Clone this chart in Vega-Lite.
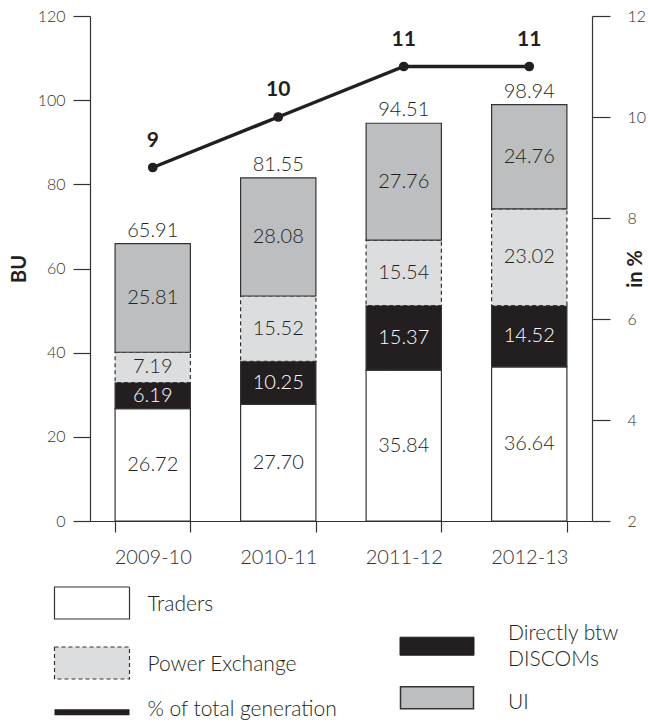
{
  "$schema": "https://vega.github.io/schema/vega-lite/v6.json",
  "padding": {"left": 9, "top": 8, "right": 0, "bottom": 2},
  "config": {
    "view": {"stroke": null},
    "font": "Lato",
    "axis": {"grid": false, "domainColor": "#333333", "tickColor": "#333333", "labelColor": "#333333", "labelFont": "Lato", "labelFontWeight": 300, "titleFont": "Lato", "domainWidth": 1.2, "tickWidth": 1.2}
  },
  "datasets": {
    "bars": [
      {"year": "2009-10", "type": "Traders", "ord": 1, "value": 26.72},
      {"year": "2009-10", "type": "Directly btw DISCOMs", "ord": 2, "value": 6.19},
      {"year": "2009-10", "type": "Power Exchange", "ord": 3, "value": 7.19},
      {"year": "2009-10", "type": "UI", "ord": 4, "value": 25.81},
      {"year": "2010-11", "type": "Traders", "ord": 1, "value": 27.70},
      {"year": "2010-11", "type": "Directly btw DISCOMs", "ord": 2, "value": 10.25},
      {"year": "2010-11", "type": "Power Exchange", "ord": 3, "value": 15.52},
      {"year": "2010-11", "type": "UI", "ord": 4, "value": 28.08},
      {"year": "2011-12", "type": "Traders", "ord": 1, "value": 35.84},
      {"year": "2011-12", "type": "Directly btw DISCOMs", "ord": 2, "value": 15.37},
      {"year": "2011-12", "type": "Power Exchange", "ord": 3, "value": 15.54},
      {"year": "2011-12", "type": "UI", "ord": 4, "value": 27.76},
      {"year": "2012-13", "type": "Traders", "ord": 1, "value": 36.64},
      {"year": "2012-13", "type": "Directly btw DISCOMs", "ord": 2, "value": 14.52},
      {"year": "2012-13", "type": "Power Exchange", "ord": 3, "value": 23.02},
      {"year": "2012-13", "type": "UI", "ord": 4, "value": 24.76}
    ],
    "pct": [
      {"year": "2009-10", "pct": 9},
      {"year": "2010-11", "pct": 10},
      {"year": "2011-12", "pct": 11},
      {"year": "2012-13", "pct": 11}
    ],
    "legend": [
      {"item": "Traders", "label": "Traders", "col": 0, "row": 0, "trow": 0.04},
      {"item": "Power Exchange", "label": "Power Exchange", "col": 0, "row": 1, "trow": 1.03},
      {"item": "% of total generation", "label": "% of total generation", "col": 0, "row": 1.82, "trow": 1.78},
      {"item": "Directly btw DISCOMs", "label": "Directly btw\nDISCOMs", "col": 1, "row": 0.72, "trow": 0.52},
      {"item": "UI", "label": "UI", "col": 1, "row": 1.58, "trow": 1.67}
    ]
  },
  "bounds": "flush",
  "spacing": 82,
  "vconcat": [
    {
      "width": 502,
      "height": 505,
      "encoding": {
        "x": {"field": "year", "type": "nominal", "scale": {"paddingInner": 0.4, "paddingOuter": 0.2},
          "axis": {"tickBand": "extent", "tickSize": 11, "labelPadding": 15, "labelFontSize": 20, "labelAngle": 0, "title": null}}
      },
      "layer": [
        {
          "data": {"name": "bars"},
          "layer": [
            {
              "mark": {"type": "bar", "stroke": "#333333", "strokeWidth": 1.2},
              "encoding": {
                "y": {"field": "value", "type": "quantitative", "stack": "zero", "scale": {"domain": [0, 120]},
                  "axis": {"values": [0, 20, 40, 60, 80, 100, 120], "tickSize": 17, "labelPadding": 8, "labelFontSize": 16, "title": "BU", "titleFontSize": 20, "titleFontWeight": "bold", "titleColor": "#231f20", "titlePadding": 8}},
                "fill": {"field": "type", "type": "nominal", "legend": null,
                  "scale": {"domain": ["Traders", "Directly btw DISCOMs", "Power Exchange", "UI"], "range": ["#ffffff", "#231f20", "#dcdddf", "#bcbec0"]}},
                "order": {"field": "ord", "type": "quantitative"},
                "strokeDash": {"condition": {"test": "datum.type === 'Power Exchange'", "value": [4, 3]}, "value": [1, 0]}
              }
            },
            {
              "transform": [
                {"stack": "value", "groupby": ["year"], "sort": [{"field": "ord", "order": "ascending"}], "as": ["v0", "v1"]},
                {"calculate": "(datum.v0 + datum.v1) / 2", "as": "mid"}
              ],
              "mark": {"type": "text", "fontSize": 20, "fontWeight": 300, "baseline": "middle", "align": "center"},
              "encoding": {
                "y": {"field": "mid", "type": "quantitative", "scale": {"domain": [0, 120]}},
                "text": {"field": "value", "type": "quantitative", "format": ".2f"},
                "color": {"condition": {"test": "datum.type === 'Directly btw DISCOMs'", "value": "#ffffff"}, "value": "#231f20"}
              }
            },
            {
              "mark": {"type": "text", "fontSize": 20, "fontWeight": 300, "baseline": "bottom", "align": "center", "dy": -3, "color": "#231f20"},
              "encoding": {
                "y": {"aggregate": "sum", "field": "value", "type": "quantitative", "scale": {"domain": [0, 120]}},
                "text": {"aggregate": "sum", "field": "value", "type": "quantitative", "format": ".2f"}
              }
            }
          ]
        },
        {
          "data": {"name": "pct"},
          "encoding": {
            "y": {"field": "pct", "type": "quantitative", "scale": {"domain": [2, 12]},
              "axis": {"orient": "right", "values": [2, 4, 6, 8, 10, 12], "tickSize": 18, "labelPadding": 17, "labelFontSize": 16, "title": "in %", "titleFontSize": 20, "titleFontWeight": "bold", "titleColor": "#231f20", "titleAngle": 270, "titlePadding": 0}}
          },
          "layer": [
            {"mark": {"type": "line", "color": "#231f20", "strokeWidth": 3.5}},
            {"mark": {"type": "point", "filled": true, "size": 95, "color": "#231f20", "opacity": 1}},
            {"mark": {"type": "text", "fontSize": 21, "fontWeight": "bold", "baseline": "middle", "dy": -27, "color": "#231f20"},
              "encoding": {"text": {"field": "pct", "type": "quantitative"}}}
          ]
        }
      ],
      "resolve": {"scale": {"y": "independent"}}
    },
    {
      "width": 502,
      "height": 110,
      "data": {"name": "legend"},
      "encoding": {
        "x": {"field": "col", "type": "quantitative", "scale": {"domain": [0, 1], "range": [2, 347]}, "axis": null}
      },
      "layer": [
        {
          "transform": [{"filter": "datum.item === 'Traders' || datum.item === 'Power Exchange'"}],
          "mark": {"type": "point", "shape": "M-1,-0.4267H1V0.4267H-1Z", "size": 5625, "stroke": "#333333", "strokeWidth": 1.2, "opacity": 1, "filled": true},
          "encoding": {
            "y": {"field": "row", "type": "quantitative", "scale": {"domain": [0, 1], "range": [0, 60]}, "axis": null},
            "fill": {"condition": {"test": "datum.item === 'Power Exchange'", "value": "#dcdddf"}, "value": "#ffffff"},
            "strokeDash": {"condition": {"test": "datum.item === 'Power Exchange'", "value": [4, 3]}, "value": [1, 0]}
          }
        },
        {
          "transform": [{"filter": "datum.item === 'Directly btw DISCOMs'"}],
          "mark": {"type": "point", "shape": "M-1,-0.243H1V0.243H-1Z", "size": 5476, "fill": "#231f20", "stroke": "#231f20", "strokeWidth": 1, "opacity": 1, "filled": true},
          "encoding": {"y": {"field": "row", "type": "quantitative", "scale": {"domain": [0, 1], "range": [0, 60]}, "axis": null}}
        },
        {
          "transform": [{"filter": "datum.item === 'UI'"}],
          "mark": {"type": "point", "shape": "M-1,-0.3H1V0.3H-1Z", "size": 5329, "fill": "#bcbec0", "stroke": "#333333", "strokeWidth": 1.5, "opacity": 1, "filled": true},
          "encoding": {"y": {"field": "row", "type": "quantitative", "scale": {"domain": [0, 1], "range": [0, 60]}, "axis": null}}
        },
        {
          "transform": [{"filter": "datum.item === '% of total generation'"}],
          "mark": {"type": "point", "shape": "M-1,0H1", "size": 5625, "fill": null, "stroke": "#231f20", "strokeWidth": 6, "opacity": 1, "filled": false},
          "encoding": {"y": {"field": "row", "type": "quantitative", "scale": {"domain": [0, 1], "range": [0, 60]}, "axis": null}}
        },
        {
          "transform": [{"filter": "datum.col === 0"}],
          "mark": {"type": "text", "fontSize": 21, "fontWeight": 300, "align": "left", "baseline": "middle", "dx": 55.5, "color": "#231f20"},
          "encoding": {
            "y": {"field": "trow", "type": "quantitative", "scale": {"domain": [0, 1], "range": [0, 60]}, "axis": null},
            "text": {"field": "label", "type": "nominal"}
          }
        },
        {
          "transform": [{"filter": "datum.col === 1"}],
          "mark": {"type": "text", "fontSize": 21, "fontWeight": 300, "align": "left", "baseline": "middle", "dx": 71, "lineBreak": "\n", "lineHeight": 26, "color": "#231f20"},
          "encoding": {
            "y": {"field": "trow", "type": "quantitative", "scale": {"domain": [0, 1], "range": [0, 60]}, "axis": null},
            "text": {"field": "label", "type": "nominal"}
          }
        }
      ]
    }
  ]
}
